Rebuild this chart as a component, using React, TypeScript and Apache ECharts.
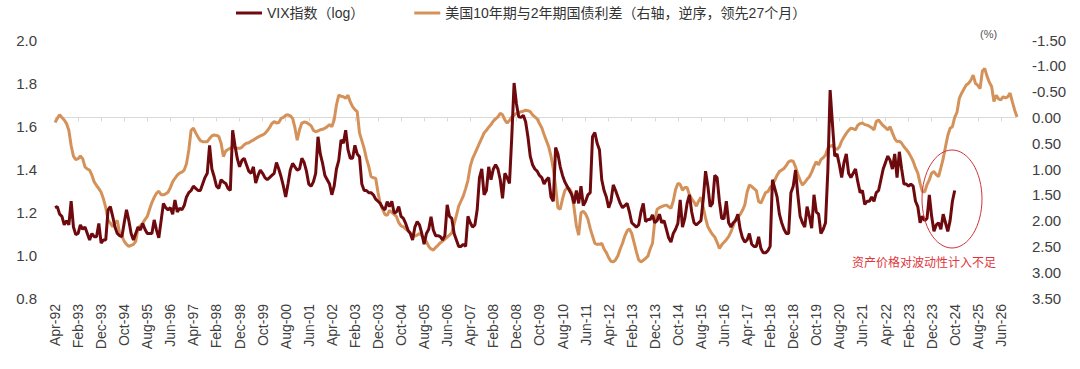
import React, { useEffect, useRef } from "react";
import * as echarts from "echarts";

// Month categories: Apr-92 .. Jan-27 (418 months)
const MONTH_NAMES = ["Jan", "Feb", "Mar", "Apr", "May", "Jun", "Jul", "Aug", "Sep", "Oct", "Nov", "Dec"];
const START_YEAR = 1992;
const START_MONTH = 3; // April
const MONTH_COUNT = 418;
const categories: string[] = [];
for (let i = 0; i < MONTH_COUNT; i++) {
  const k = START_MONTH + i;
  const yy = START_YEAR + Math.floor(k / 12);
  categories.push(`${MONTH_NAMES[k % 12]}-${String(yy % 100).padStart(2, "0")}`);
}

// VIX index (log10), monthly
const vixLog: number[] = [
  1.22,
  1.225, 1.19, 1.18, 1.14, 1.16, 1.14, 1.25, 1.13, 1.095,
  1.10, 1.14, 1.12, 1.13, 1.10, 1.07, 1.10, 1.085, 1.085, 1.147, 1.055, 1.07,
  1.07, 1.21, 1.225, 1.18, 1.13, 1.10, 1.09, 1.085, 1.15, 1.21, 1.16, 1.10,
  1.07, 1.10, 1.13, 1.116, 1.147, 1.12, 1.10, 1.10, 1.10, 1.163, 1.116, 1.08,
  1.16, 1.24, 1.22, 1.21, 1.22, 1.19, 1.256, 1.20, 1.217, 1.21, 1.23, 1.27,
  1.29, 1.30, 1.32, 1.31, 1.30, 1.30, 1.33, 1.36, 1.38, 1.51, 1.40, 1.364,
  1.32, 1.31, 1.35, 1.34, 1.333, 1.31, 1.30, 1.58, 1.51, 1.45, 1.41, 1.44,
  1.45, 1.42, 1.39, 1.38, 1.41, 1.335, 1.37, 1.395, 1.38, 1.36, 1.35, 1.36,
  1.37, 1.38, 1.43, 1.40, 1.364, 1.32, 1.27, 1.33, 1.395, 1.426, 1.41, 1.395,
  1.40, 1.45, 1.43, 1.39, 1.33, 1.32, 1.34, 1.38, 1.55, 1.47, 1.426, 1.37,
  1.35, 1.33, 1.28, 1.32, 1.40, 1.44, 1.535, 1.52, 1.58, 1.49, 1.45, 1.45,
  1.51, 1.47, 1.457, 1.33, 1.30, 1.30, 1.29, 1.29, 1.28, 1.26, 1.25, 1.24,
  1.22, 1.21, 1.248, 1.225, 1.25, 1.195, 1.20, 1.225, 1.18, 1.17, 1.147, 1.116,
  1.10, 1.07, 1.13, 1.155, 1.14, 1.10, 1.05, 1.10, 1.12, 1.178, 1.116, 1.09,
  1.09, 1.085, 1.07, 1.09, 1.233, 1.18, 1.17, 1.10, 1.07, 1.04, 1.04, 1.05,
  1.04, 1.18, 1.15, 1.13, 1.14, 1.21, 1.36, 1.40, 1.28, 1.30, 1.41, 1.35,
  1.40, 1.42, 1.40, 1.35, 1.264, 1.38, 1.36, 1.333, 1.55, 1.80, 1.705, 1.643,
  1.64, 1.65, 1.62, 1.55, 1.46, 1.42, 1.40, 1.39, 1.37, 1.36, 1.33, 1.35,
  1.36, 1.27, 1.25, 1.50, 1.47, 1.41, 1.37, 1.34, 1.32, 1.30, 1.28, 1.24,
  1.30, 1.24, 1.32, 1.23, 1.25, 1.28, 1.29, 1.55, 1.57, 1.52, 1.49, 1.35,
  1.30, 1.27, 1.22, 1.25, 1.326, 1.30, 1.27, 1.24, 1.22, 1.23, 1.24, 1.20,
  1.15, 1.14, 1.13, 1.14, 1.20, 1.24, 1.155, 1.165, 1.165, 1.186, 1.15, 1.16,
  1.19, 1.15, 1.16, 1.12, 1.08, 1.06, 1.10, 1.12, 1.147, 1.256, 1.13, 1.17,
  1.24, 1.28, 1.20, 1.15, 1.14, 1.15, 1.16, 1.26, 1.39, 1.32, 1.225, 1.24,
  1.37, 1.36, 1.25, 1.17, 1.17, 1.25, 1.15, 1.13, 1.15, 1.16, 1.19, 1.12,
  1.08, 1.06, 1.07, 1.10, 1.05, 1.04, 1.04, 1.085, 1.03, 1.01, 1.01, 1.02,
  1.04, 1.35, 1.31, 1.27, 1.19, 1.15, 1.12, 1.10, 1.10, 1.29, 1.32, 1.395,
  1.28, 1.18, 1.15, 1.13, 1.225, 1.18, 1.125, 1.28, 1.20, 1.19, 1.10, 1.12,
  1.15, 1.39, 1.767, 1.61, 1.46, 1.47, 1.42, 1.36, 1.43, 1.47, 1.38, 1.36,
  1.38, 1.40, 1.34, 1.29, 1.30, 1.235, 1.25, 1.25, 1.27, 1.25, 1.29, 1.30,
  1.35, 1.40, 1.43, 1.46, 1.44, 1.40, 1.47, 1.36, 1.48, 1.40, 1.33, 1.33,
  1.32, 1.33, 1.32, 1.25, 1.225, 1.15, 1.18, 1.16, 1.17, 1.28, 1.18, 1.11,
  1.14, 1.15, 1.12, 1.19, 1.15, 1.11, 1.16, 1.25, 1.30,
];

// US 10Y-2Y spread (%), right axis inverted, led by 27 months
const spreadLead27: number[] = [
  0.10, 0.02, -0.05, 0.00, 0.05, 0.12, 0.25, 0.55, 0.75, 0.82,
  0.80, 0.75, 0.80, 0.96, 1.00, 1.02, 1.12, 1.25, 1.32, 1.38,
  1.45, 1.58, 1.75, 1.99, 2.05, 2.12, 2.05, 2.00, 2.24, 2.30,
  2.40, 2.46, 2.50, 2.48, 2.46, 2.40, 2.14, 2.10, 2.05, 1.98,
  1.92, 1.78, 1.65, 1.55, 1.47, 1.43, 1.50, 1.50, 1.48, 1.45,
  1.36, 1.25, 1.18, 1.12, 1.08, 1.06, 1.02, 0.90, 0.63, 0.25,
  0.21, 0.30, 0.38, 0.45, 0.47, 0.47, 0.47, 0.41, 0.36, 0.34,
  0.35, 0.37, 0.50, 0.76, 0.65, 0.62, 0.60, 0.57, 0.59, 0.60,
  0.60, 0.58, 0.53, 0.50, 0.49, 0.46, 0.44, 0.41, 0.38, 0.36,
  0.34, 0.31, 0.26, 0.20, 0.12, 0.08, 0.11, 0.10, 0.02, 0.00,
  -0.04, -0.05, -0.03, 0.02, 0.20, 0.44, 0.24, 0.11, 0.09, 0.10,
  0.13, 0.16, 0.25, 0.28, 0.26, 0.24, 0.23, 0.21, 0.18, 0.14,
  0.18, 0.05, -0.24, -0.43, -0.41, -0.40, -0.37, -0.43, -0.30, -0.21,
  -0.15, -0.11, 0.30, 0.45, 0.60, 0.80, 0.95, 1.15, 1.17, 1.18,
  1.45, 1.68, 1.78, 1.88, 1.90, 1.80, 1.84, 1.88, 1.92, 2.04,
  2.10, 2.12, 2.16, 2.20, 2.24, 2.28, 2.30, 2.28, 2.25, 2.29,
  2.34, 2.41, 2.50, 2.55, 2.57, 2.52, 2.48, 2.43, 2.40, 2.36,
  2.32, 2.28, 2.24, 2.07, 1.90, 1.72, 1.62, 1.52, 1.38, 1.22,
  0.95, 0.80, 0.70, 0.60, 0.50, 0.40, 0.30, 0.25, 0.19, 0.14,
  0.07, 0.03, -0.01, -0.08, -0.05, 0.05, 0.11, 0.06, -0.01, -0.04,
  -0.08, -0.09, -0.11, -0.12, -0.14, -0.13, -0.11, -0.05, -0.01, 0.03,
  0.12, 0.20, 0.33, 0.45, 0.57, 0.75, 1.00, 1.34, 1.75, 1.78,
  1.58, 1.42, 1.36, 1.38, 1.46, 1.75, 2.10, 2.28, 1.85, 1.82,
  1.87, 1.97, 2.15, 2.30, 2.44, 2.46, 2.46, 2.44, 2.55, 2.62,
  2.72, 2.79, 2.80, 2.76, 2.68, 2.55, 2.44, 2.30, 2.20, 2.16,
  2.25, 2.42, 2.60, 2.76, 2.80, 2.77, 2.73, 2.69, 2.55, 2.44,
  2.00, 1.78, 1.75, 1.73, 1.71, 1.70, 1.73, 1.76, 1.62, 1.40,
  1.28, 1.30, 1.41, 1.36, 1.36, 1.50, 1.58, 1.64, 1.72, 1.62,
  1.55, 1.75, 1.95, 2.12, 2.20, 2.27, 2.32, 2.42, 2.54, 2.47,
  2.42, 2.37, 2.31, 2.22, 2.10, 1.98, 1.94, 1.88, 1.80, 1.70,
  1.45, 1.31, 1.34, 1.38, 1.42, 1.63, 1.66, 1.56, 1.46, 1.44,
  1.36, 1.31, 1.22, 1.12, 1.05, 1.02, 0.99, 0.93, 0.86, 0.84,
  0.85, 0.96, 1.10, 1.22, 1.31, 1.26, 1.20, 1.15, 1.06, 0.95,
  0.86, 0.92, 0.82, 0.78, 0.73, 0.60, 0.56, 0.54, 0.60, 0.62,
  0.57, 0.46, 0.38, 0.31, 0.25, 0.21, 0.22, 0.24, 0.15, 0.12,
  0.11, 0.14, 0.15, 0.17, 0.20, 0.24, 0.08, 0.05, 0.11, 0.16,
  0.20, 0.24, 0.18, 0.30, 0.41, 0.47, 0.46, 0.50, 0.57, 0.62,
  0.68, 0.76, 0.85, 0.98, 1.08, 1.28, 1.44, 1.44, 1.30, 1.21,
  1.08, 1.05, 1.11, 1.15, 0.98, 0.80, 0.57, 0.35, 0.21, 0.18,
  0.00, -0.10, -0.37, -0.47, -0.55, -0.63, -0.66, -0.72, -0.82, -0.66,
  -0.62, -0.56, -0.90, -0.95, -0.80, -0.68, -0.60, -0.31, -0.43, -0.36,
  -0.34, -0.40, -0.38, -0.40, -0.47, -0.30, -0.14, -0.01,
];

const VIX_NAME = "VIX指数（log）";
const SPREAD_NAME = "美国10年期与2年期国债利差（右轴，逆序，领先27个月）";
const ANNOTATION = "资产价格对波动性计入不足";
const UNIT_LABEL = "(%)";

const FONT = "Arial, 'Liberation Sans', 'Noto Sans CJK SC', sans-serif";

export default function App() {
  const ref = useRef<HTMLDivElement>(null);

  useEffect(() => {
    if (!ref.current) return;
    const chart = echarts.init(ref.current, undefined, { renderer: "svg" });
    chart.setOption({
      animation: false,
      backgroundColor: "#ffffff",
      textStyle: { fontFamily: FONT },
      legend: {
        top: 1,
        left: 231,
        itemGap: 50,
        itemWidth: 26,
        itemHeight: 3,
        textStyle: { fontSize: 14, color: "#333333", fontFamily: FONT },
        data: [
          { name: VIX_NAME, icon: "rect" },
          { name: SPREAD_NAME, icon: "rect" },
        ],
      },
      grid: { left: 55, right: 63, top: 40, bottom: 71, containLabel: false },
      xAxis: {
        type: "category",
        boundaryGap: false,
        data: categories,
        axisLine: { lineStyle: { color: "#d9d9d9", width: 1 } },
        axisTick: { show: true, interval: 9, length: 4, lineStyle: { color: "#d9d9d9" } },
        axisLabel: { interval: 9, rotate: 90, fontSize: 14, color: "#404040", margin: 6, fontFamily: FONT },
        splitLine: { show: false },
      },
      yAxis: [
        {
          type: "value",
          position: "left",
          min: 0.8,
          max: 2.0,
          interval: 0.2,
          axisLine: { show: false },
          axisTick: { show: false },
          splitLine: { show: false },
          axisLabel: {
            fontSize: 15,
            color: "#404040",
            margin: 18,
            fontFamily: FONT,
            formatter: (v: number) => v.toFixed(1),
          },
        },
        {
          type: "value",
          position: "right",
          inverse: true,
          min: -1.5,
          max: 3.5,
          interval: 0.5,
          axisLine: { show: false },
          axisTick: { show: false },
          splitLine: { show: false },
          axisLabel: {
            fontSize: 15,
            color: "#404040",
            margin: 15,
            fontFamily: FONT,
            formatter: (v: number) => v.toFixed(2),
          },
        },
      ],
      series: [
        {
          name: VIX_NAME,
          type: "line",
          yAxisIndex: 0,
          data: vixLog,
          symbol: "none",
          z: 3,
          lineStyle: { color: "#6E0A0E", width: 3 },
          itemStyle: { color: "#6E0A0E" },
        },
        {
          name: SPREAD_NAME,
          type: "line",
          yAxisIndex: 1,
          data: spreadLead27,
          symbol: "none",
          z: 2,
          lineStyle: { color: "#D4925A", width: 3 },
          itemStyle: { color: "#D4925A" },
        },
      ],
      graphic: [
        {
          type: "text",
          left: 980,
          top: 28,
          style: { text: UNIT_LABEL, fontSize: 11, fill: "#555555", fontFamily: FONT },
        },
        {
          type: "ellipse",
          shape: { cx: 952, cy: 199, rx: 30, ry: 49 },
          style: { fill: "none", stroke: "#D0333C", lineWidth: 1 },
          z: 10,
        },
        {
          type: "text",
          left: 852,
          top: 257,
          style: { text: ANNOTATION, fontSize: 12, fill: "#E0363C", fontFamily: FONT },
          z: 10,
        },
      ],
    });
    return () => chart.dispose();
  }, []);

  return (
    <div
      ref={ref}
      style={{ position: "fixed", left: 0, top: 0, width: 1080, height: 369, background: "#fff" }}
    />
  );
}
